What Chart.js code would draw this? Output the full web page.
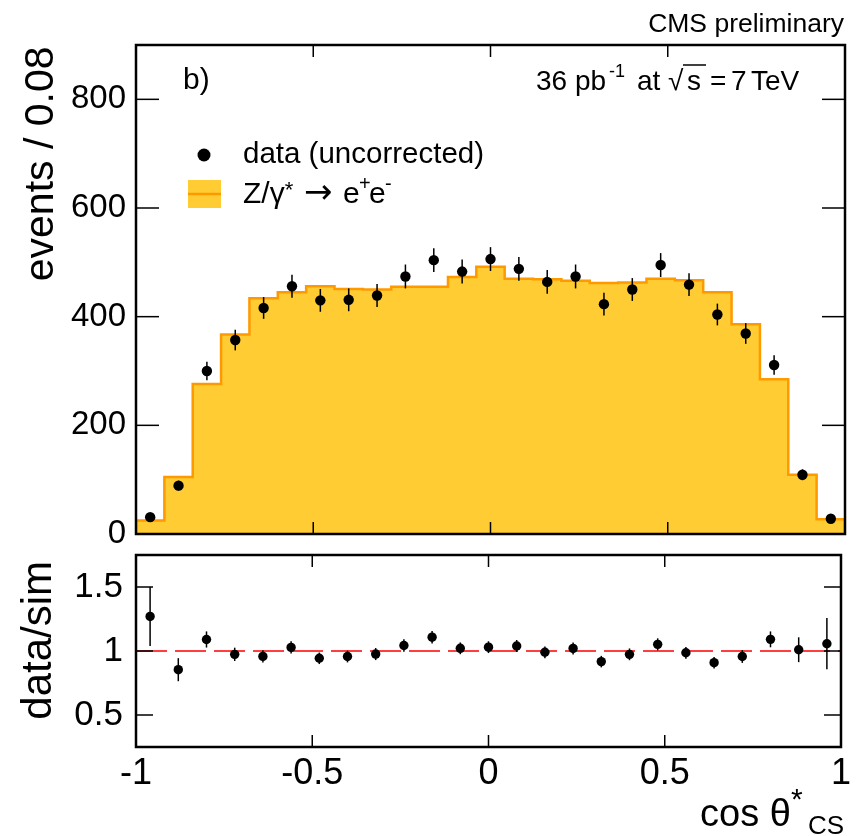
<!DOCTYPE html>
<html><head><meta charset="utf-8">
<script src="https://cdn.jsdelivr.net/npm/chart.js@4.4.1/dist/chart.umd.min.js"></script>
<style>
html,body{margin:0;padding:0;background:#fff;}
#wrap{position:relative;width:856px;height:836px;overflow:hidden;}
canvas{position:absolute;left:0;top:0;}
</style></head><body>
<div id="wrap"><canvas id="topc" width="856" height="836"></canvas><canvas id="botc" width="856" height="836"></canvas></div>
<script>
// ---- data ----
const binEdges = [-1,-0.92,-0.84,-0.76,-0.68,-0.6,-0.52,-0.44,-0.36,-0.28,-0.2,-0.12,-0.04,0.04,0.12,0.2,0.28,0.36,0.44,0.52,0.6,0.68,0.76,0.84,0.92,1];
const binCenters = [-0.96,-0.88,-0.8,-0.72,-0.64,-0.56,-0.48,-0.4,-0.32,-0.24,-0.16,-0.08,0,0.08,0.16,0.24,0.32,0.4,0.48,0.56,0.64,0.72,0.8,0.88,0.96];
const simValues = [25,105,276,367,434,445,456,451,450,455,455,473,492,470,469,466,462,463,470,467,445,386,285,109,27];
const dataValues = [31,89,300,357,416,456,430,431,439,474,504,483,506,488,464,474,423,450,495,459,404,369,311,109,28];
const dataErrors = [6,9,17,19,20,21,21,21,21,22,22,22,22,22,22,22,21,21,22,21,20,19,18,10,5];
const ratioValues = [1.27,0.854,1.09,0.974,0.958,1.028,0.943,0.957,0.976,1.043,1.108,1.021,1.03,1.039,0.99,1.02,0.917,0.974,1.052,0.986,0.909,0.957,1.091,1.01,1.057];
const ratioErrors = [0.23,0.09,0.063,0.052,0.047,0.048,0.045,0.046,0.047,0.048,0.049,0.046,0.046,0.047,0.046,0.047,0.045,0.046,0.047,0.046,0.045,0.05,0.062,0.097,0.2];
const refLine = [1,1];
const yTicksTop = [0,200,400,600,800];
const yTickLabelsTop = ['0','200','400','600','800'];
const yTicksBottom = [0.5,1,1.5];
const yTickLabelsBottom = ['0.5','1','1.5'];
const xTicks = [-1,-0.5,0,0.5,1];
const xTickLabels = ['-1','-0.5','0','0.5','1'];

const FONT = '"Liberation Sans", Arial, Helvetica, sans-serif';
const SYM = '"DejaVu Sans", "Liberation Sans", sans-serif';
Chart.defaults.font.family = FONT;
Chart.defaults.color = '#000';

// histogram outline points (step 'before': value holds from edge to next edge)
const histPoints = [{x: binEdges[0], y: 0}];
for (let i = 0; i < simValues.length; i++) histPoints.push({x: binEdges[i], y: simValues[i]});
histPoints.push({x: binEdges[binEdges.length - 1], y: 0});
const dataPoints = binCenters.map((c, i) => ({x: c, y: dataValues[i]}));
const ratioPoints = binCenters.map((c, i) => ({x: c, y: ratioValues[i]}));
const refPoints = [{x: xTicks[0], y: refLine[0]}, {x: xTicks[xTicks.length - 1], y: refLine[1]}];

// ---- plugins ----
const errorBars = {
  id: 'errorBars',
  afterDatasetsDraw(chart) {
    const {ctx, chartArea: a} = chart;
    const xs = chart.scales.x, ys = chart.scales.y;
    chart.data.datasets.forEach(ds => {
      if (!ds.errors) return;
      ctx.save();
      ctx.beginPath(); ctx.rect(a.left, a.top, a.right - a.left, a.bottom - a.top); ctx.clip();
      ctx.strokeStyle = '#000'; ctx.lineWidth = 1.5;
      ds.data.forEach((p, j) => {
        const e = ds.errors[j], px = xs.getPixelForValue(p.x);
        ctx.beginPath();
        ctx.moveTo(px, ys.getPixelForValue(p.y - e));
        ctx.lineTo(px, ys.getPixelForValue(p.y + e));
        ctx.stroke();
      });
      ctx.restore();
    });
  }
};
function frame(xLen, yLen, yT) {
  return {
    id: 'frame',
    afterDraw(chart) {
      const {ctx, chartArea: a} = chart;
      const xs = chart.scales.x, ys = chart.scales.y;
      ctx.save();
      ctx.strokeStyle = '#000'; ctx.lineWidth = 1.5;
      const ln = (x1, y1, x2, y2) => { ctx.beginPath(); ctx.moveTo(x1, y1); ctx.lineTo(x2, y2); ctx.stroke(); };
      xTicks.forEach(v => { const px = xs.getPixelForValue(v); ln(px, a.bottom, px, a.bottom - xLen); ln(px, a.top, px, a.top + xLen); });
      yT.forEach(v => { const py = ys.getPixelForValue(v); ln(a.left, py, a.left + yLen, py); ln(a.right, py, a.right - yLen, py); });
      ctx.lineWidth = 2.5;
      ctx.strokeRect(a.left, a.top, a.right - a.left, a.bottom - a.top);
      ctx.restore();
    }
  };
}
const topText = {
  id: 'topText',
  afterDraw(chart) {
    const ctx = chart.ctx;
    ctx.save();
    ctx.fillStyle = '#000'; ctx.textBaseline = 'alphabetic';
    const f = (s, fam) => ctx.font = s + 'px ' + (fam || FONT);
    f(26.5); ctx.textAlign = 'right'; ctx.fillText('CMS preliminary', 844, 31.5);
    ctx.textAlign = 'left';
    f(30); ctx.fillText('b)', 183, 89);
    // luminosity label
    f(28); ctx.fillText('36 pb', 536, 89.5);
    f(18); ctx.fillText('-1', 609, 77);
    f(28); ctx.fillText('at', 637, 89.5);
    ctx.fillText('\u221A', 668, 89.5);
    ctx.fillText('s', 687, 89.5);
    ctx.fillText('=', 710, 89.5);
    ctx.fillText('7', 731, 89.5);
    ctx.fillText('TeV', 751, 89.5);
    ctx.strokeStyle = '#000'; ctx.lineWidth = 1.5;
    ctx.beginPath(); ctx.moveTo(683, 65); ctx.lineTo(706, 65); ctx.stroke();
    // legend
    ctx.beginPath(); ctx.arc(204, 155, 6.5, 0, Math.PI * 2); ctx.fill();
    f(29.5); ctx.fillText('data (uncorrected)', 243, 163);
    ctx.fillStyle = '#ffcc33'; ctx.fillRect(188, 180, 33, 28);
    ctx.strokeStyle = '#ff9900'; ctx.lineWidth = 2.5;
    ctx.beginPath(); ctx.moveTo(188, 194); ctx.lineTo(221, 194); ctx.stroke();
    ctx.fillStyle = '#000';
    let x = 243;
    f(30); ctx.fillText('Z/', x, 203); x += ctx.measureText('Z/').width;
    ctx.fillText('\u03B3', x, 203); x += ctx.measureText('\u03B3').width;
    f(22); ctx.fillText('*', x, 197);
    f(34, SYM); ctx.fillText('\u2192', 304, 203);
    f(30); ctx.fillText('e', 343, 203);
    f(20); ctx.fillText('+', 359, 190);
    f(30); ctx.fillText('e', 369, 203);
    f(20); ctx.fillText('-', 385, 190);
    // y title
    ctx.translate(53, 46.5); ctx.rotate(-Math.PI / 2);
    f(41); ctx.textAlign = 'right'; ctx.fillText('events / 0.08', 0, 0);
    ctx.restore();
  }
};
const botText = {
  id: 'botText',
  afterDraw(chart) {
    const ctx = chart.ctx;
    ctx.save();
    ctx.fillStyle = '#000'; ctx.textBaseline = 'alphabetic';
    const f = s => ctx.font = s + 'px ' + FONT;
    ctx.textAlign = 'left';
    f(38); ctx.fillText('cos \u03B8', 700, 826);
    f(30); ctx.fillText('*', 791, 809);
    f(26); ctx.fillText('CS', 808, 834);
    ctx.translate(51, 561); ctx.rotate(-Math.PI / 2);
    f(42); ctx.textAlign = 'right'; ctx.fillText('data/sim', 0, 0);
    ctx.restore();
  }
};

// ---- top chart ----
new Chart(document.getElementById('topc'), {
  type: 'scatter',
  data: {datasets: [
    {type: 'line', data: histPoints, stepped: 'before', borderColor: '#ff9900', borderWidth: 2.5,
     backgroundColor: '#ffcc33', fill: 'origin', pointRadius: 0, order: 2},
    {type: 'scatter', data: dataPoints, errors: dataErrors, backgroundColor: '#000', borderWidth: 0, pointRadius: 5.2, order: 1}
  ]},
  options: {
    responsive: false, animation: false, events: [],
    layout: {padding: {top: 45, right: 11, bottom: 302, left: 0}},
    plugins: {legend: {display: false}, tooltip: {enabled: false}},
    scales: {
      x: {type: 'linear', min: -1, max: 1, display: false},
      y: {type: 'linear', min: 0, max: 900,
          afterBuildTicks: s => { s.ticks = yTicksTop.map(v => ({value: v})); },
          afterFit: s => { s.width = 136; },
          grid: {display: false, drawTicks: false}, border: {display: false},
          ticks: {padding: 10, autoSkip: false, font: {size: 33}, color: '#000',
                  callback: (v, i) => yTickLabelsTop[i]}}
    }
  },
  plugins: [errorBars, frame(12, 23, yTicksTop), topText]
});

// ---- ratio chart ----
new Chart(document.getElementById('botc'), {
  type: 'scatter',
  data: {datasets: [
    {type: 'line', data: refPoints, borderColor: '#ff0000', borderWidth: 1.5, borderDash: [31, 8], pointRadius: 0, fill: false, order: 2},
    {type: 'scatter', data: ratioPoints, errors: ratioErrors, backgroundColor: '#000', borderWidth: 0, pointRadius: 4.7, order: 1}
  ]},
  options: {
    responsive: false, animation: false, events: [],
    layout: {padding: {top: 555, right: 11, bottom: 0, left: 0}},
    plugins: {legend: {display: false}, tooltip: {enabled: false}},
    scales: {
      x: {type: 'linear', min: -1, max: 1, position: 'bottom',
          afterBuildTicks: s => { s.ticks = xTicks.map(v => ({value: v})); },
          afterFit: s => { s.height = 89; },
          grid: {display: false, drawTicks: false}, border: {display: false},
          ticks: {padding: 5, autoSkip: false, maxRotation: 0, font: {size: 36}, color: '#000',
                  callback: (v, i) => xTickLabels[i]}},
      y: {type: 'linear', min: 0.25, max: 1.75,
          afterBuildTicks: s => { s.ticks = yTicksBottom.map(v => ({value: v})); },
          afterFit: s => { s.width = 136; },
          grid: {display: false, drawTicks: false}, border: {display: false},
          ticks: {padding: 13, autoSkip: false, font: {size: 35}, color: '#000',
                  callback: (v, i) => yTickLabelsBottom[i]}}
    }
  },
  plugins: [errorBars, frame(12, 17, yTicksBottom), botText]
});
</script>
</body></html>
